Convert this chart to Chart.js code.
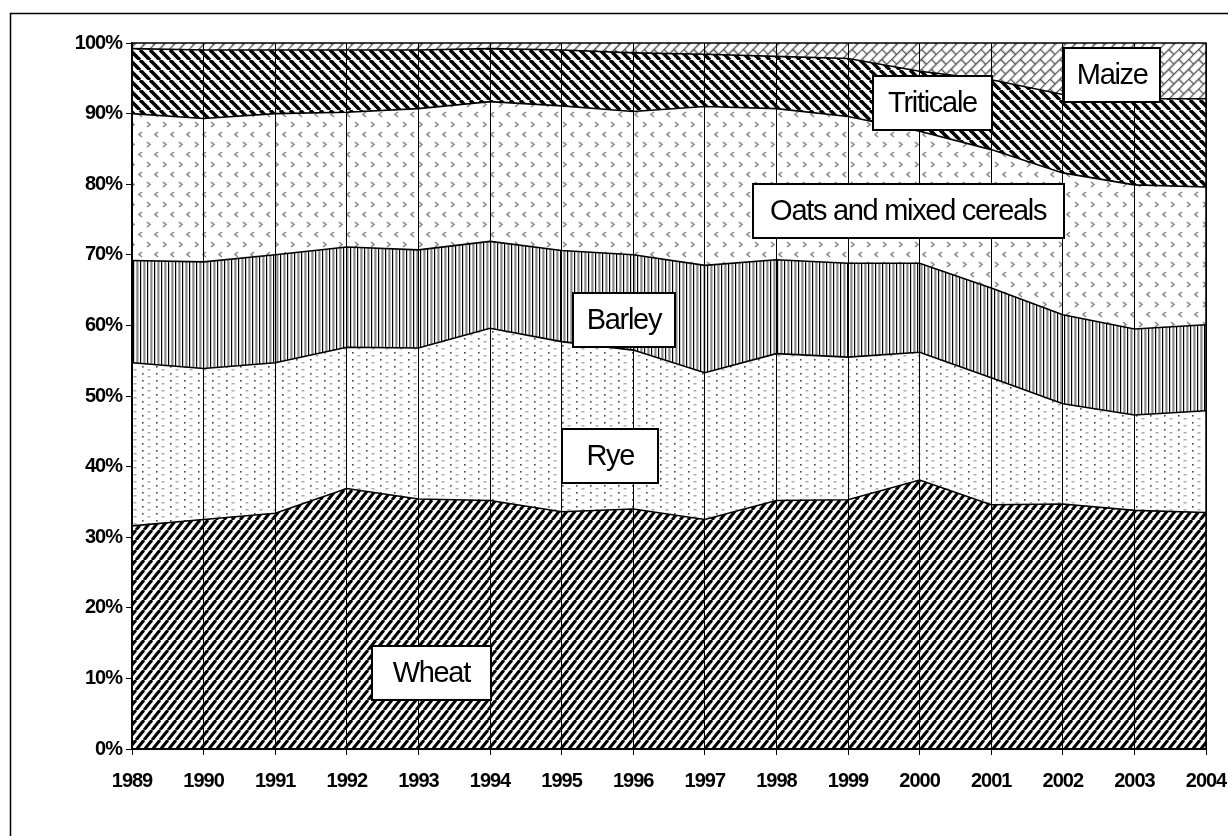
<!DOCTYPE html>
<html>
<head>
<meta charset="utf-8">
<script src="https://cdn.jsdelivr.net/npm/chart.js@4.4.1/dist/chart.umd.min.js"></script>
<style>
  html, body { margin: 0; background: #fff; }
  #wrap { position: relative; width: 1228px; height: 836px; }
</style>
</head>
<body>
<div id="wrap"><canvas id="chart" width="1228" height="836"></canvas></div>
<script>
// shares of the cereal area, % of total
const years = ['1989','1990','1991','1992','1993','1994','1995','1996','1997','1998','1999','2000','2001','2002','2003','2004'];
const wheat     = [31.6, 32.5, 33.4, 36.9, 35.4, 35.2, 33.6, 34.0, 32.5, 35.2, 35.3, 38.1, 34.6, 34.7, 33.8, 33.5];
const rye       = [23.1, 21.4, 21.3, 20.0, 21.4, 24.4, 24.1, 22.5, 20.8, 20.8, 20.2, 18.1, 18.0, 14.2, 13.5, 14.4];
const barley    = [14.5, 15.1, 15.3, 14.2, 13.9, 12.3, 12.9, 13.5, 15.2, 13.3, 13.3, 12.6, 12.7, 12.6, 12.2, 12.2];
const oats      = [20.8, 20.3, 20.0, 19.1, 20.0, 19.8, 20.5, 20.3, 22.5, 21.4, 20.8, 18.7, 19.6, 20.1, 20.4, 19.5];
const triticale = [9.2, 9.7, 9.0, 8.8, 8.3, 7.5, 7.9, 8.3, 7.4, 7.4, 8.2, 8.5, 9.9, 11.1, 12.2, 12.5];
const maize     = [0.8, 1.0, 1.0, 1.0, 1.0, 0.8, 1.0, 1.4, 1.6, 1.9, 2.2, 4.0, 5.2, 7.3, 7.9, 7.9];
const yTicks = [0, 10, 20, 30, 40, 50, 60, 70, 80, 90, 100];

// text boxes in the plot: at (year index, percent)
const notes = [
  { text: 'Wheat', at: 4.18, val: 10.7, w: 119 },
  { text: 'Rye', at: 6.68, val: 41.5, w: 96 },
  { text: 'Barley', at: 6.87, val: 60.8, w: 102 },
  { text: 'Oats and mixed cereals', at: 10.84, val: 76.2, w: 311 },
  { text: 'Triticale', at: 11.18, val: 91.5, w: 119 },
  { text: 'Maize', at: 13.69, val: 95.5, w: 96 }
];

const FONT = '"Liberation Sans", Arial, sans-serif';

function tile(w, h, draw, angle) {
  const c = document.createElement('canvas');
  c.width = w; c.height = h;
  const g = c.getContext('2d');
  g.fillStyle = '#fff';
  g.fillRect(0, 0, w, h);
  draw(g, w, h);
  const p = g.createPattern(c, 'repeat');
  if (angle) p.setTransform(new DOMMatrix().rotateSelf(angle));
  return p;
}

function seg(g, x1, y1, x2, y2) {
  g.beginPath(); g.moveTo(x1, y1); g.lineTo(x2, y2); g.stroke();
}

const wheatFill = tile(8, 10, (g, w, h) => {
  g.strokeStyle = '#000'; g.lineWidth = 3.1;
  for (const dx of [-w, 0, w]) seg(g, dx, h, dx + w, 0);
});
const ryeFill = tile(14, 7, (g) => {
  g.fillStyle = '#444'; g.fillRect(2, 2, 1.6, 1.6);
  g.fillStyle = '#aaa'; g.fillRect(7.5, 5, 3, 1.5);
});
const barleyFill = tile(7, 7, (g) => {
  g.fillStyle = '#000'; g.fillRect(0, 0, 1.2, 7);
  g.fillStyle = '#8a8a8a'; g.fillRect(3.3, 0, 2.2, 7);
});
const oatsFill = tile(16, 20, (g) => {
  g.strokeStyle = '#888'; g.lineWidth = 1.6;
  g.beginPath(); g.moveTo(3, 2); g.lineTo(6, 4.5); g.lineTo(3, 7); g.stroke();
  g.beginPath(); g.moveTo(14, 12); g.lineTo(11, 14.5); g.lineTo(14, 17); g.stroke();
});
const triticaleFill = tile(10, 10, (g, w, h) => {
  g.strokeStyle = '#000'; g.lineWidth = 3.6;
  for (const dx of [-w, 0, w]) seg(g, dx, 0, dx + w, h);
});
const maizeFill = tile(14, 14, (g) => {
  g.strokeStyle = '#555'; g.lineWidth = 1.5;
  seg(g, 0, 0.5, 14, 0.5);
  seg(g, 0, 7.5, 14, 7.5);
  seg(g, 0.5, 0, 0.5, 7.5);
  seg(g, 7.5, 7.5, 7.5, 14);
}, -45);

function series(label, data, fill, first) {
  return {
    label, data,
    backgroundColor: fill,
    borderColor: '#000',
    borderWidth: label === 'Maize' ? 0 : 1.6,
    pointRadius: 0,
    tension: 0,
    fill: first ? 'origin' : '-1'
  };
}

const framePlugin = {
  id: 'frame',
  beforeDraw(chart) {
    const ctx = chart.ctx;
    ctx.letterSpacing = '-1px';
    ctx.save();
    ctx.strokeStyle = '#000';
    ctx.lineWidth = 1.5;
    ctx.beginPath();
    ctx.moveTo(10.5, 836);
    ctx.lineTo(10.5, 13.5);
    ctx.lineTo(1228, 13.5);
    ctx.stroke();
    ctx.restore();
  },
  afterDraw(chart) {
    const ctx = chart.ctx;
    const a = chart.chartArea;
    const xs = chart.scales.x, ys = chart.scales.y;
    ctx.save();
    ctx.strokeStyle = '#000';
    ctx.lineWidth = 1.5;
    ctx.strokeRect(a.left, a.top, a.right - a.left, a.bottom - a.top);

    ctx.font = '29px ' + FONT;
    ctx.letterSpacing = '-1.3px';
    ctx.textAlign = 'center';
    ctx.textBaseline = 'middle';
    const h = 54;
    for (const n of notes) {
      const cx = xs.getPixelForValue(n.at);
      const cy = ys.getPixelForValue(n.val);
      const x = Math.round(cx - n.w / 2), y = Math.round(cy - h / 2);
      ctx.fillStyle = '#fff';
      ctx.fillRect(x, y, n.w, h);
      ctx.lineWidth = 2;
      ctx.strokeRect(x, y, n.w, h);
      ctx.fillStyle = '#000';
      ctx.fillText(n.text, cx, cy + 1);
    }
    ctx.restore();
  }
};

new Chart(document.getElementById('chart'), {
  type: 'line',
  data: {
    labels: years,
    datasets: [
      series('Wheat', wheat, wheatFill, true),
      series('Rye', rye, ryeFill),
      series('Barley', barley, barleyFill),
      series('Oats and mixed cereals', oats, oatsFill),
      series('Triticale', triticale, triticaleFill),
      series('Maize', maize, maizeFill)
    ]
  },
  options: {
    responsive: false,
    animation: false,
    devicePixelRatio: 1,
    layout: { padding: { left: 0, top: 43, right: 22, bottom: 0 } },
    plugins: { legend: { display: false }, tooltip: { enabled: false } },
    scales: {
      x: {
        offset: false,
        grid: { color: '#000', lineWidth: 1, tickLength: 6, z: 1 },
        border: { color: '#000', width: 2, z: 1 },
        ticks: {
          color: '#000', padding: 14, maxRotation: 0, autoSkip: false,
          font: { family: FONT, size: 20, weight: 'bold' }
        },
        afterFit(s) { s.height = 87; s.paddingLeft = 0; s.paddingRight = 0; }
      },
      y: {
        stacked: true,
        min: 0, max: 100,
        afterBuildTicks(s) { s.ticks = yTicks.map(v => ({ value: v })); },
        grid: { color: '#000', drawOnChartArea: false, tickLength: 6 },
        border: { color: '#000', width: 1.5 },
        ticks: {
          color: '#000', padding: 4,
          font: { family: FONT, size: 20, weight: 'bold' },
          callback: v => v + '%'
        },
        afterFit(s) { s.width = 132; s.paddingTop = 0; s.paddingBottom = 0; }
      }
    }
  },
  plugins: [framePlugin]
});
</script>
</body>
</html>
